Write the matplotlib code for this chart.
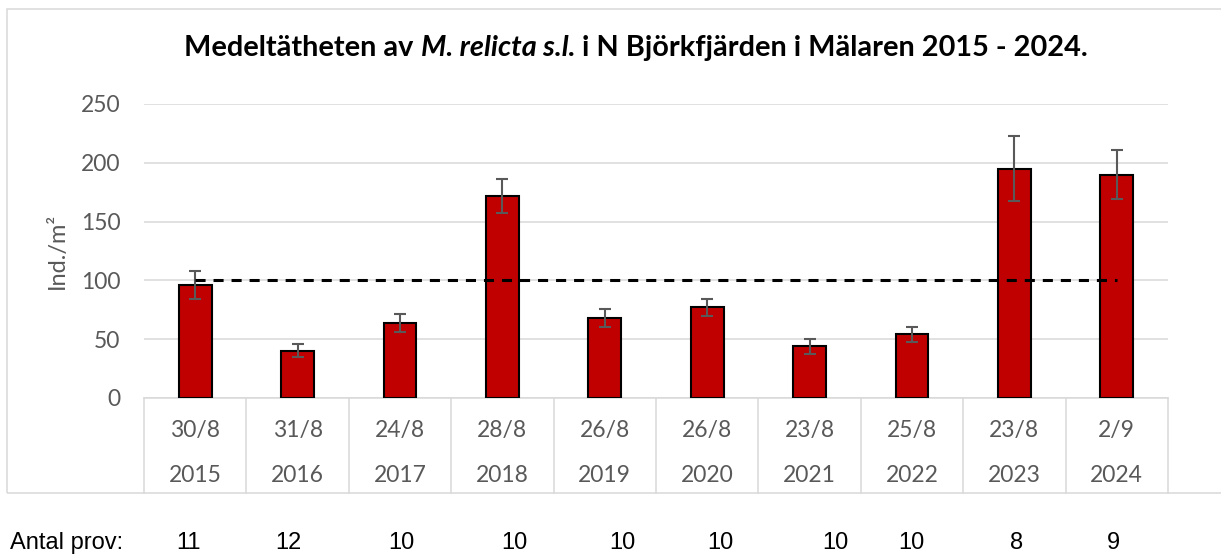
import matplotlib
matplotlib.use("Agg")
import matplotlib.pyplot as plt
from matplotlib.patches import Rectangle
from matplotlib.transforms import blended_transform_factory

# data
dates = ["30/8", "31/8", "24/8", "28/8", "26/8", "26/8", "23/8", "25/8", "23/8", "2/9"]
years = ["2015", "2016", "2017", "2018", "2019", "2020", "2021", "2022", "2023", "2024"]
density = [96, 40, 64, 172, 68, 77, 44, 54, 195, 190]
density_err = [12, 5.5, 7.5, 14.5, 7.8, 7.2, 6.4, 6.7, 27.5, 21]
ref_level = [100] * 10
n_samples = [11, 12, 10, 10, 10, 10, 10, 10, 8, 9]
yticks = [0, 50, 100, 150, 200, 250]

# layout (pixels of the 1221x555 image)
W, H = 1221, 555
n_label_x = [188, 288, 401, 514, 622, 720, 835, 911, 1017, 1113]
GRID = "#D9D9D9"
TXT = "#595959"
FONT = "Lato"


def fx(px):
    return px / W


def fy(py):
    return 1 - py / H


fig = plt.figure(figsize=(W / 100, H / 100), dpi=100)

# chart frame (right edge is cut off in the original)
fig.add_artist(Rectangle((fx(7), fy(493)), 1.2, (493 - 8.7) / H, transform=fig.transFigure,
                         fill=False, edgecolor=GRID, lw=1.1))

ax = fig.add_axes([fx(144), fy(398), fx(1168) - fx(144), (398 - 104) / H])
x = list(range(len(years)))

ax.bar(x, density, width=0.32, color="#C00000", edgecolor="black", linewidth=1.5, zorder=3)
ax.errorbar(x, density, yerr=density_err, fmt="none", ecolor=TXT, elinewidth=1.5,
            capsize=4.3, capthick=1.5, zorder=4)
ax.plot(x, ref_level, color="black", lw=2.2, linestyle=(0, (3.3, 2.6)), zorder=5)

ax.set_xlim(-0.5, len(years) - 0.5)
ax.set_ylim(0, 250)
ax.set_yticks(yticks)
ax.set_yticklabels([str(v) for v in yticks], family=FONT, fontsize=16.5, color=TXT)
ax.tick_params(axis="y", length=0, pad=17)
ax.set_xticks([])
ax.yaxis.grid(True, color=GRID, lw=1.1, zorder=0)
for side in ["top", "right", "left"]:
    ax.spines[side].set_visible(False)
ax.spines["bottom"].set_color(GRID)
ax.spines["bottom"].set_linewidth(1.1)

ax_w = 1168 - 144
ax.set_ylabel("Ind./m²", family=FONT, fontsize=17, color=TXT)
ax.yaxis.set_label_coords((68 - 144) / ax_w, 0.5)

# category boxes below the axis
trans = blended_transform_factory(ax.transData, ax.transAxes)
ah = 398 - 104
for b in range(len(years) + 1):
    ax.plot([b - 0.5, b - 0.5], [0, -(493 - 398) / ah], transform=trans, color=GRID,
            lw=1.1, clip_on=False)
for i in x:
    ax.text(i, -(430 - 398) / ah, dates[i], transform=trans, ha="center", va="center",
            family=FONT, fontsize=16.5, color=TXT)
    ax.text(i, -(475 - 398) / ah, years[i], transform=trans, ha="center", va="center",
            family=FONT, fontsize=16.5, color=TXT)

# sample counts under the chart
fig.text(fx(10), fy(543), "Antal prov:", ha="left", va="center",
         family="Liberation Sans", fontsize=17)
for px, n in zip(n_label_x, n_samples):
    fig.text(fx(px), fy(543), str(n), ha="center", va="center",
             family="Liberation Sans", fontsize=17)

# title with italic species name, fitted to the original width
parts = [("Medeltätheten av ", "normal"), ("M. relicta s.l.", "italic"),
         (" i N Björkfjärden i Mälaren 2015 - 2024.", "normal")]
target_w, center_x, title_y = 900, 636, 48
renderer = fig.canvas.get_renderer()


def draw_title(size):
    texts = []
    for s, style in parts:
        t = fig.text(0, fy(title_y), s, family=FONT, fontweight="bold", style=style,
                     fontsize=size, ha="left", va="center")
        texts.append(t)
    return texts


def widths(texts):
    return [t.get_window_extent(renderer).width for t in texts]


texts = draw_title(20)
total = sum(widths(texts))
for t in texts:
    t.remove()
texts = draw_title(20 * target_w / total)
ws = widths(texts)
start = center_x - sum(ws) / 2
for t, w in zip(texts, ws):
    t.set_x(fx(start))
    start += w

fig.savefig("out.png", dpi=100)
